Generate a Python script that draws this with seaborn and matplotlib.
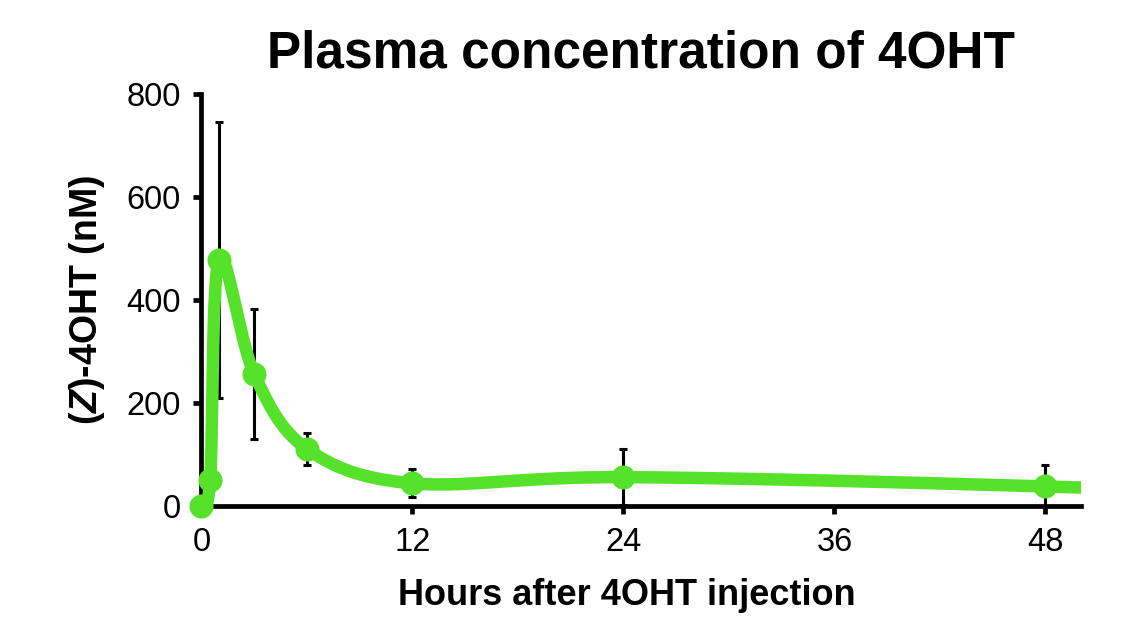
import numpy as np
import pandas as pd
import matplotlib
matplotlib.use("Agg")
import matplotlib.pyplot as plt
import seaborn as sns

# ---- data ----
hours = [0, 0.5, 1, 3, 6, 12, 24, 48, 72]
conc_nM = [0, 51, 478, 257, 111, 44, 56, 38, 8]
sem_nM = [0, 12, 268, 126, 31, 27, 54, 42, 0]
n_visible = 8  # the 72 h point lies beyond the x-range shown
x_ticks = [0, 12, 24, 36, 48]
y_ticks = [0, 200, 400, 600, 800]
title = "Plasma concentration of 4OHT"
xlabel = "Hours after 4OHT injection"
ylabel = r"($\mathbfit{Z}$)-4OHT (nM)"

GREEN = "#56E22B"

sns.set_theme(style="ticks")
plt.rcParams["font.family"] = ["Liberation Sans", "DejaVu Sans"]
plt.rcParams["text.color"] = "black"
plt.rcParams["axes.labelcolor"] = "black"
plt.rcParams["mathtext.fontset"] = "custom"
plt.rcParams["mathtext.rm"] = "Liberation Sans:bold"
plt.rcParams["mathtext.bf"] = "Liberation Sans:bold"
plt.rcParams["mathtext.it"] = "Liberation Sans:italic:bold"
plt.rcParams["mathtext.bfit"] = "Liberation Sans:italic:bold"

fig = plt.figure(figsize=(11.28, 6.26), dpi=100)
ax = fig.add_axes([0.1785, 0.1917, 0.7795, 0.6581])
XMAX, YMAX = 50, 800
ax.set_xlim(0, XMAX)
ax.set_ylim(0, YMAX)

# smooth (Excel-like Catmull-Rom Bezier) curve through the data, in display-proportional space
W, H = 879.0, 412.0
sx, sy = W / XMAX, H / YMAX
P = np.column_stack([np.array(hours) * sx, np.array(conc_nM) * sy])
n = len(P)
t = np.linspace(0, 1, 60)[:, None]
segs = []
for i in range(n - 1):
    p0 = P[i]
    p1 = P[i + 1]
    pm = P[i - 1] if i > 0 else P[i]
    pp = P[i + 2] if i + 2 < n else P[i + 1]
    c1 = p0 + (p1 - pm) / 6.0
    c2 = p1 - (pp - p0) / 6.0
    b = ((1 - t) ** 3) * p0 + 3 * ((1 - t) ** 2) * t * c1 + 3 * (1 - t) * t ** 2 * c2 + t ** 3 * p1
    segs.append(b if i == 0 else b[1:])
curve = np.vstack(segs)
curve_df = pd.DataFrame({"h": curve[:, 0] / sx, "c": curve[:, 1] / sy})

ax.errorbar(hours[:n_visible], conc_nM[:n_visible], yerr=sem_nM[:n_visible], fmt="none",
            ecolor="black", elinewidth=2.2, capsize=3, capthick=2.2, zorder=2)
sns.lineplot(data=curve_df, x="h", y="c", sort=False, color=GREEN, linewidth=9,
             ax=ax, zorder=3, estimator=None)
pts = pd.DataFrame({"h": hours[:n_visible], "c": conc_nM[:n_visible]})
sns.scatterplot(data=pts, x="h", y="c", color=GREEN, s=300, linewidth=0, ax=ax,
                zorder=5, clip_on=False)

for side in ["top", "right"]:
    ax.spines[side].set_visible(False)
for side in ["left", "bottom"]:
    ax.spines[side].set_linewidth(3.4)
    ax.spines[side].set_color("black")
ax.set_xticks(x_ticks)
ax.set_yticks(y_ticks)
ax.tick_params(axis="both", direction="out", length=6, width=3.4, color="black",
               labelsize=23.5, labelcolor="black", pad=9)
ax.set_xlabel(xlabel, fontsize=26, fontweight="bold", labelpad=15, color="black")
ax.xaxis.set_label_coords(0.4835, -0.175)
ax.set_ylabel(ylabel, fontsize=27, fontweight="bold", labelpad=14, color="black")
ax.set_title(title, fontsize=37, fontweight="bold", pad=19, color="black")
ax.set_facecolor("white")
fig.patch.set_facecolor("white")

fig.savefig("out.png", dpi=100)
